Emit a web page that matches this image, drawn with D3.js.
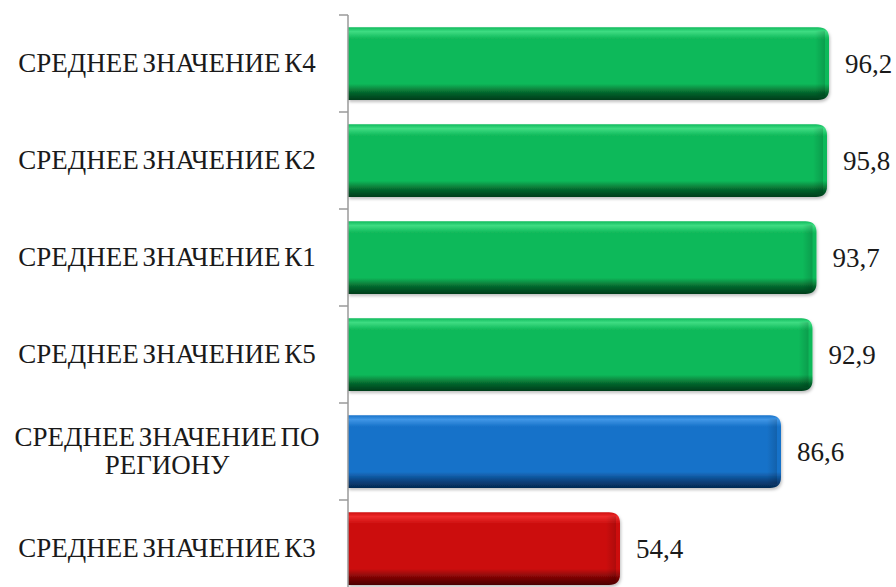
<!DOCTYPE html>
<html><head><meta charset="utf-8">
<script src="https://cdn.jsdelivr.net/npm/d3@7"></script>
<style>html,body{margin:0;padding:0;background:#fff;}svg{display:block;}</style>
</head><body>
<svg id="chart" width="896" height="587"></svg>
<script>
const categories = [
  "СРЕДНЕЕ ЗНАЧЕНИЕ К4",
  "СРЕДНЕЕ ЗНАЧЕНИЕ К2",
  "СРЕДНЕЕ ЗНАЧЕНИЕ К1",
  "СРЕДНЕЕ ЗНАЧЕНИЕ К5",
  "СРЕДНЕЕ ЗНАЧЕНИЕ ПО РЕГИОНУ",
  "СРЕДНЕЕ ЗНАЧЕНИЕ К3"
];
const values = [96.2, 95.8, 93.7, 92.9, 86.6, 54.4];
const groups = ["above", "above", "above", "above", "region", "below"];
const labelLines = [
  ["СРЕДНЕЕ ЗНАЧЕНИЕ К4"],
  ["СРЕДНЕЕ ЗНАЧЕНИЕ К2"],
  ["СРЕДНЕЕ ЗНАЧЕНИЕ К1"],
  ["СРЕДНЕЕ ЗНАЧЕНИЕ К5"],
  ["СРЕДНЕЕ ЗНАЧЕНИЕ ПО", "РЕГИОНУ"],
  ["СРЕДНЕЕ ЗНАЧЕНИЕ К3"]
];

const palette = {
  above:  {light:"#3ddc82", main:"#10b95a", dark:"#05662d", deep:"#033d1b"},
  region: {light:"#3f96e6", main:"#1872c9", dark:"#0a4582", deep:"#052a52"},
  below:  {light:"#ee2a2a", main:"#cc0f0f", dark:"#7c0505", deep:"#4a0202"}
};

const svg = d3.select("#chart");
const x0 = 348;
const x = d3.scaleLinear().domain([0, 100]).range([x0, 848]);
const y = d3.scaleBand().domain(categories).range([15, 597]).paddingInner(0.25).paddingOuter(0.125);

const defs = svg.append("defs");
Object.entries(palette).forEach(([k, c]) => {
  const g = defs.append("linearGradient").attr("id", "grad-" + k)
    .attr("x1", 0).attr("y1", 0).attr("x2", 0).attr("y2", 1);
  [[0, c.main], [0.06, c.light], [0.16, c.main], [0.78, c.main], [0.9, c.dark], [1, c.deep]]
    .forEach(([o, col]) => g.append("stop").attr("offset", o).attr("stop-color", col));
  const h = defs.append("linearGradient").attr("id", "edge-" + k)
    .attr("x1", 0).attr("y1", 0).attr("x2", 1).attr("y2", 0);
  h.append("stop").attr("offset", 0).attr("stop-color", "#000").attr("stop-opacity", 0);
  h.append("stop").attr("offset", 1).attr("stop-color", "#000").attr("stop-opacity", 0.25);
});
const f = defs.append("filter").attr("id", "shadow").attr("x", "-5%").attr("y", "-10%").attr("width", "115%").attr("height", "130%");
f.append("feDropShadow").attr("dx", 1).attr("dy", 2).attr("stdDeviation", 1.5).attr("flood-color", "#000").attr("flood-opacity", 0.25);

const r = 11;
function barPath(x1, yTop, h) {
  return `M${x0},${yTop} H${x1 - r} Q${x1},${yTop} ${x1},${yTop + r} V${yTop + h - r} Q${x1},${yTop + h} ${x1 - r},${yTop + h} H${x0} Z`;
}

const bars = svg.append("g");
categories.forEach((cat, i) => {
  const yt = y(cat), h = y.bandwidth(), xe = x(values[i]);
  const g = groups[i];
  bars.append("path").attr("d", barPath(xe, yt, h)).attr("fill", `url(#grad-${g})`).attr("filter", "url(#shadow)");
  bars.append("rect").attr("x", xe - 14).attr("y", yt + 4).attr("width", 10).attr("height", h - 8)
    .attr("fill", `url(#edge-${g})`).attr("opacity", 0.6);
});

// axis
const ax = svg.append("g");
ax.append("line").attr("x1", x0).attr("x2", x0).attr("y1", 15).attr("y2", 597)
  .attr("stroke", "#9a9a9a").attr("stroke-width", 1.5);
const tickYs = categories.map(c => y(c) - y.step() * y.paddingInner() / 2);
tickYs.push(597);
tickYs.forEach(t => ax.append("line").attr("x1", x0 - 9).attr("x2", x0).attr("y1", t).attr("y2", t)
  .attr("stroke", "#9a9a9a").attr("stroke-width", 1.5));

// category labels
const labels = svg.append("g").attr("font-family", "'Liberation Serif','Times New Roman',serif")
  .attr("font-size", 27).attr("fill", "#1a1a1a").attr("text-anchor", "middle")
  .style("word-spacing", "-3px");
categories.forEach((cat, i) => {
  const lines = labelLines[i];
  const cy = y(cat) + y.bandwidth() / 2;
  const lh = 28;
  lines.forEach((ln, j) => {
    labels.append("text").attr("x", 167)
      .attr("y", cy + (j - (lines.length - 1) / 2) * lh)
      .attr("dy", "0.33em").text(ln);
  });
});

// value labels
const fmt = v => v.toFixed(1).replace(".", ",");
svg.append("g").attr("font-family", "'Liberation Serif','Times New Roman',serif")
  .attr("font-size", 27).attr("fill", "#1a1a1a")
  .selectAll("text").data(values).join("text")
  .attr("x", d => x(d) + 16)
  .attr("y", (d, i) => y(categories[i]) + y.bandwidth() / 2 + 1)
  .attr("dy", "0.33em").text(fmt);
</script>
</body></html>
